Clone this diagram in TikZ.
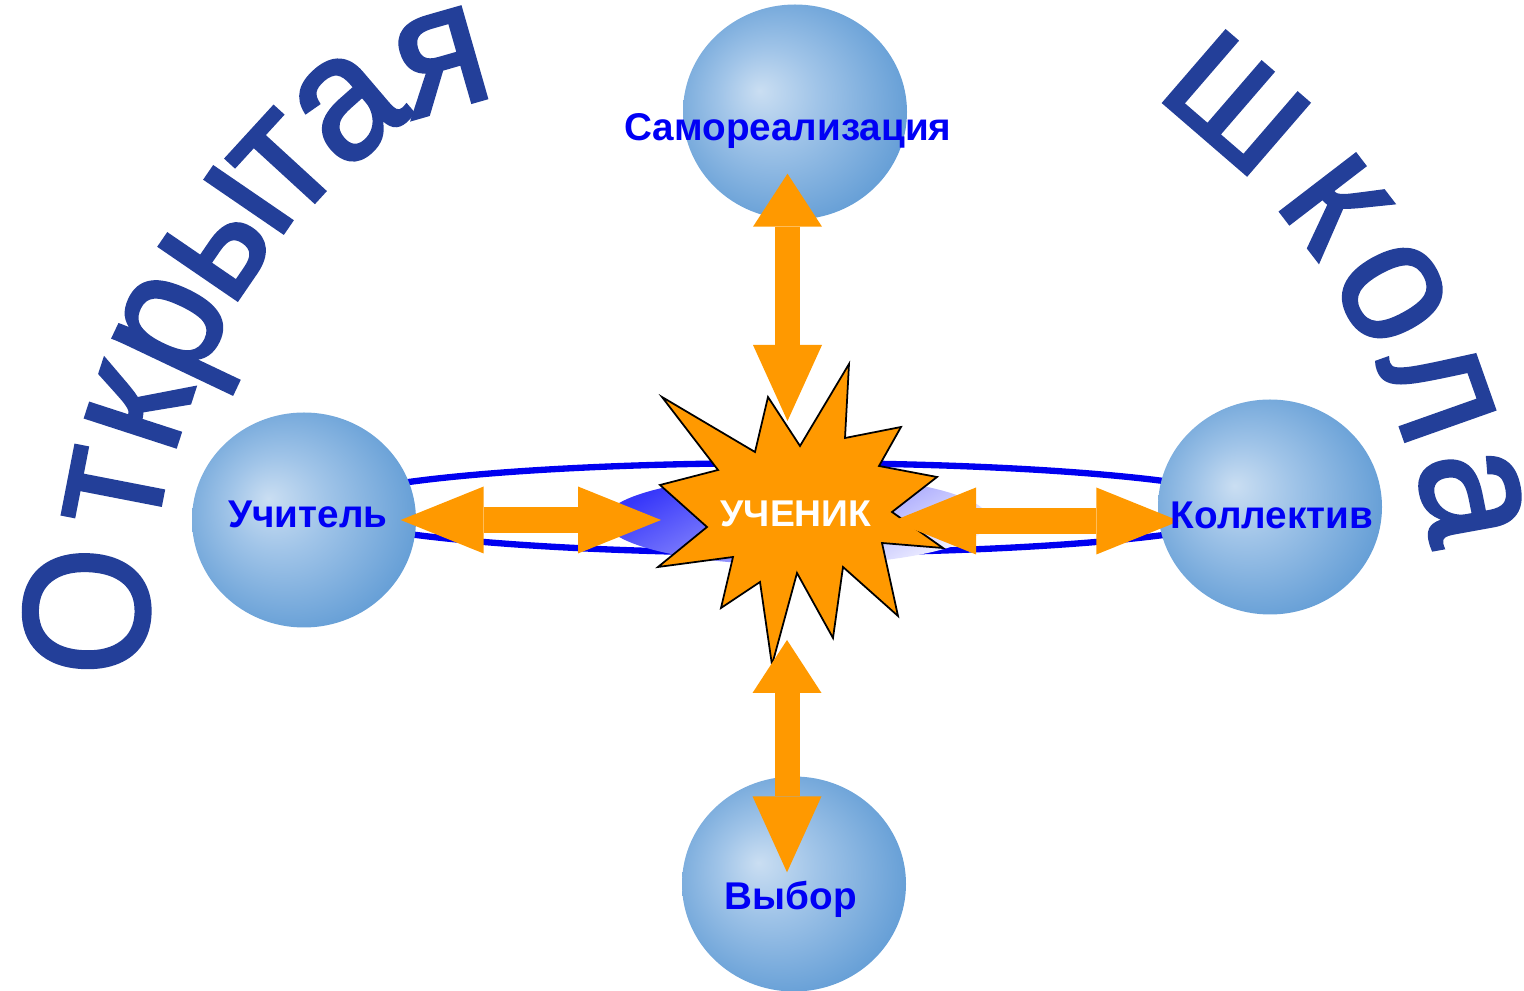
\documentclass[tikz,border=0pt]{standalone}
\usepackage{fontspec}
\setmainfont{Liberation Sans}
\newfontfamily\wordfont[FakeBold=2]{Liberation Sans}
\usetikzlibrary{arrows.meta}
\usetikzlibrary{shapes.geometric}

\definecolor{arrowor}{RGB}{255,153,0}
\definecolor{wordblue}{RGB}{35,63,153}
\definecolor{labelblue}{RGB}{0,0,245}
\definecolor{ringblue}{RGB}{0,0,240}
\definecolor{gradblue}{RGB}{55,55,250}
\definecolor{gradlight}{RGB}{238,238,255}
\definecolor{sphlight}{RGB}{202,222,242}
\definecolor{sphmid}{RGB}{160,196,232}
\definecolor{sphedge}{RGB}{88,150,210}

\pgfdeclareradialshading{sphere}{\pgfqpoint{-8bp}{5bp}}{color(0bp)=(sphlight); color(11bp)=(sphmid); color(32bp)=(sphedge); color(40bp)=(sphedge)}

\tikzset{
  bubble/.style={ellipse, shade, shading=sphere, minimum width=2.24cm, minimum height=2.15cm, inner sep=0pt},
  bubblelabel/.style={anchor=base, inner sep=0pt, text=labelblue, font=\bfseries\fontsize{11}{13}\selectfont},
  pupiltext/.style={anchor=base, inner sep=0pt, text=white, font=\bfseries\fontsize{10.6}{12}\selectfont},
  starburst/.style={fill=arrowor, draw=black, line width=0.5pt, line join=miter},
  ring/.style={draw=ringblue, line width=1.8pt},
  bigletter/.style={anchor=base, inner sep=0pt, text=wordblue, yscale=1.08, font=\wordfont\fontsize{47}{50}\selectfont},
  hlink/.style={draw=arrowor, line width=2.6mm,
    {Triangle[width=6.7mm,length=8.3mm,line width=0pt]}-{Triangle[width=6.7mm,length=8.3mm,line width=0pt]}},
  vlink/.style={draw=arrowor, line width=2.5mm,
    {Triangle[width=6.9mm,length=5.3mm,line width=0pt]}-{Triangle[width=6.9mm,length=7.6mm,line width=0pt]}}
}

\begin{document}
\begin{tikzpicture}
  \useasboundingbox (0,0) rectangle (15.24,9.90);

  % orbit behind the pupil
  \draw[ring] (7.90,4.82) ellipse [x radius=4.67cm, y radius=0.45cm];
  \shade[top color=gradblue, bottom color=gradlight, shading angle=30] (7.97,4.70) ellipse [x radius=1.92cm, y radius=0.45cm];

  % the pupil
  \draw[starburst] (8.49,6.26) -- (8.45,5.52) -- (9.01,5.63) -- (8.79,5.24) -- (9.37,5.13) -- (8.92,4.78)
    -- (9.43,4.42) -- (8.82,4.47) -- (8.98,3.74) -- (8.43,4.23) -- (8.33,3.52) -- (7.97,4.17)
    -- (7.72,3.25) -- (7.60,4.08) -- (7.21,3.82) -- (7.33,4.33) -- (6.58,4.23) -- (7.07,4.63)
    -- (6.60,5.05) -- (7.18,5.20) -- (6.62,5.93) -- (7.55,5.38) -- (7.68,5.93) -- (8.00,5.44) -- cycle;
  \node[pupiltext] (pupil) at (7.96,4.63) {УЧЕНИК};

  \node[bubble] (selfreal) at (7.95,8.78) {};
  \node[bubble] (teacher) at (3.04,4.70) {};
  \node[bubble] (collective) at (12.70,4.83) {};
  \node[bubble] (choice) at (7.94,1.06) {};

  \coordinate (topx) at ([xshift=-0.75mm]selfreal.south);
  \coordinate (botx) at ([xshift=-0.7mm]choice.north);
  \coordinate (rmid) at ([yshift=-1.4mm]collective.west);

  \draw[hlink, shorten <=-0.16cm, shorten >=1.35cm] (teacher.east) -- (teacher.east -| pupil.base);
  \draw[hlink, shorten <=0.97cm, shorten >=-0.22cm] (rmid -| pupil.base) -- (rmid);
  \draw[vlink, shorten <=-0.465cm, shorten >=1.06cm] (topx) -- (topx |- pupil.base);
  \draw[vlink, shorten <=1.13cm, shorten >=-0.965cm] (botx |- pupil.base) -- (botx);

  \node[bubblelabel] (selfreal-label) at ([shift={(-0.07,-0.29)}]selfreal.center) {Самореализация};
  \node[bubblelabel] (teacher-label) at ([shift={(0.04,-0.08)}]teacher.center) {Учитель};
  \node[bubblelabel] (collective-label) at ([shift={(0.02,-0.22)}]collective.center) {Коллектив};
  \node[bubblelabel] (choice-label) at ([shift={(-0.03,-0.26)}]choice.center) {Выбор};

  % title along the arc
  \coordinate (arccentre) at (7.90,3.70);
  \foreach \ch/\ang/\rot/\rad [count=\i] in {О/179.4/88/6.42, т/169/79/6.40, к/162/72/6.38, р/154.6/64.6/6.38,
      ы/145.6/55.6/6.37, т/138/47.5/6.33, а/130.8/40.5/6.30, я/123.2/16/6.13}
    \node[rotate=\rot, bigletter] (open-\i) at ([shift={(\ang:\rad)}]arccentre) {\ch};
  \foreach \ch/\ang/\rot/\rad [count=\i] in {ш/49.2/-40.8/6.36, к/37.5/-52.5/6.38, о/28.5/-61.5/6.38,
      л/19.5/-70.5/6.40, а/10.3/-79.7/6.45}
    \node[rotate=\rot, bigletter] (school-\i) at ([shift={(\ang:\rad)}]arccentre) {\ch};
\end{tikzpicture}
\end{document}
